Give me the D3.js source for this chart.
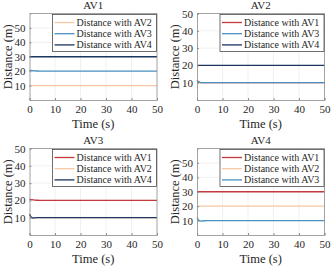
<!DOCTYPE html>
<html>
<head>
<meta charset="utf-8">
<script src="https://d3js.org/d3.v7.min.js"></script>
<style>
body { margin: 0; background: #fff; }
</style>
</head>
<body>
<script>
// time samples (s)
var time_s = [0, 0.5, 1, 1.5, 2, 3, 4, 6, 10, 20, 30, 40, 50]

// distances per ego vehicle (m)
var av1_to_av2 = [10, 10, 10, 10, 10, 10, 10, 10, 10, 10, 10, 10, 10]
var av1_to_av3 = [20.6, 20.5, 20.4, 20.3, 20.2, 20.1, 20, 20, 20, 20, 20, 20, 20]
var av1_to_av4 = [30, 30, 30, 30, 30, 30, 30, 30, 30, 30, 30, 30, 30]

var av2_to_av1 = [10.6, 10.4, 10.2, 10.1, 10, 10, 10, 10, 10, 10, 10, 10, 10]
var av2_to_av3 = [11.4, 10.8, 10.3, 10.1, 10, 10, 10, 10, 10, 10, 10, 10, 10]
var av2_to_av4 = [20, 20, 20, 20, 20, 20, 20, 20, 20, 20, 20, 20, 20]

var av3_to_av1 = [20.6, 20.5, 20.4, 20.3, 20.2, 20.1, 20, 20, 20, 20, 20, 20, 20]
var av3_to_av2 = [12, 10.6, 10, 9.9, 10, 10, 10, 10, 10, 10, 10, 10, 10]
var av3_to_av4 = [12, 10.6, 10, 9.8, 9.9, 10, 10, 10, 10, 10, 10, 10, 10]

var av4_to_av1 = [30, 30, 30, 30, 30, 30, 30, 30, 30, 30, 30, 30, 30]
var av4_to_av2 = [20, 20, 20, 20, 20, 20, 20, 20, 20, 20, 20, 20, 20]
var av4_to_av3 = [12, 10.5, 9.8, 9.6, 9.7, 9.9, 10, 10, 10, 10, 10, 10, 10]

var x_ticks = [0, 10, 20, 30, 40, 50]
var y_ticks = [10, 20, 30, 40, 50]
var colors = {'AV1': '#c4393b', 'AV2': '#f8c8a6', 'AV3': '#4a92c2', 'AV4': '#1d3660'}

var panels = [
    {title: 'AV1', ymax: 60, names: ['AV2', 'AV3', 'AV4'], series: [av1_to_av2, av1_to_av3, av1_to_av4]},
    {title: 'AV2', ymax: 50, names: ['AV1', 'AV3', 'AV4'], series: [av2_to_av1, av2_to_av3, av2_to_av4]},
    {title: 'AV3', ymax: 50, names: ['AV1', 'AV2', 'AV4'], series: [av3_to_av1, av3_to_av2, av3_to_av4]},
    {title: 'AV4', ymax: 60, names: ['AV1', 'AV2', 'AV3'], series: [av4_to_av1, av4_to_av2, av4_to_av3]}
]

var serif = "'Liberation Serif', 'Times New Roman', serif"

function plot_it() {
    var svg = d3.select('body').append('svg').attr('width', 332).attr('height', 268)
        .attr('font-family', serif)
    var plot_w = 127.5, plot_h = 86.5
    var origins = [[29.5, 13.5], [197, 13.5], [29.5, 148.5], [197, 148.5]]

    panels.forEach(function(panel, p) {
        var g = svg.append('g').attr('transform', 'translate(' + origins[p][0] + ',' + origins[p][1] + ')')
        var sx = d3.scaleLinear().domain([0, 50]).range([0, plot_w])
        var sy = d3.scaleLinear().domain([0, panel.ymax]).range([plot_h, 0])

        // grid
        g.append('g').selectAll('line').data(x_ticks.slice(1, -1)).enter().append('line')
            .attr('x1', d => sx(d)).attr('x2', d => sx(d)).attr('y1', 0).attr('y2', plot_h)
            .attr('stroke', '#e8e8e8').attr('stroke-width', 0.6)
        g.append('g').selectAll('line').data(y_ticks.filter(d => d < panel.ymax)).enter().append('line')
            .attr('y1', d => sy(d)).attr('y2', d => sy(d)).attr('x1', 0).attr('x2', plot_w)
            .attr('stroke', '#e8e8e8').attr('stroke-width', 0.6)

        // lines
        var line = d3.line().x((d, i) => sx(time_s[i])).y(d => sy(d))
        panel.series.forEach(function(vals, k) {
            g.append('path').attr('d', line(vals)).attr('fill', 'none')
                .attr('stroke', colors[panel.names[k]]).attr('stroke-width', 1.3)
        })

        // axes (ticks inside, matlab style)
        var xa = g.append('g').attr('transform', 'translate(0,' + plot_h + ')')
            .call(d3.axisBottom(sx).tickValues(x_ticks).tickSize(-2).tickPadding(5))
        var ya = g.append('g')
            .call(d3.axisLeft(sy).tickValues(y_ticks).tickSize(-2).tickPadding(4))
        ;[xa, ya].forEach(function(a) {
            a.attr('font-family', serif).attr('font-size', 11)
            a.select('.domain').attr('stroke', '#8c8c8c').attr('stroke-width', 0.8)
            a.selectAll('.tick line').attr('stroke', '#8c8c8c')
            a.selectAll('text').attr('fill', '#262626')
        })
        g.append('line').attr('x1', 0).attr('x2', plot_w).attr('y1', 0).attr('y2', 0)
            .attr('stroke', '#8c8c8c').attr('stroke-width', 0.8)
        g.append('line').attr('x1', plot_w).attr('x2', plot_w).attr('y1', 0).attr('y2', plot_h)
            .attr('stroke', '#8c8c8c').attr('stroke-width', 0.8)

        // labels
        g.append('text').attr('x', plot_w / 2).attr('y', -4.5).attr('text-anchor', 'middle')
            .attr('font-size', '11px').attr('fill', '#262626').text(panel.title)
        g.append('text').attr('x', plot_w / 2).attr('y', plot_h + 27.5).attr('text-anchor', 'middle')
            .attr('font-size', '12.5px').attr('fill', '#262626').text('Time (s)')
        g.append('text').attr('transform', 'translate(-18,' + (plot_h / 2) + ') rotate(-90)')
            .attr('text-anchor', 'middle').attr('font-size', '12.5px').attr('fill', '#262626').text('Distance (m)')

        // legend
        var lg = g.append('g').attr('transform', 'translate(23,1)')
        lg.append('rect').attr('width', 104).attr('height', 37).attr('fill', '#fff')
            .attr('stroke', '#333').attr('stroke-width', 0.7)
        panel.names.forEach(function(name, k) {
            var yy = 8 + k * 11.2
            lg.append('line').attr('x1', 2).attr('x2', 22).attr('y1', yy).attr('y2', yy)
                .attr('stroke', colors[name]).attr('stroke-width', 1.3)
            lg.append('text').attr('x', 24).attr('y', yy + 3.4).attr('font-size', '10px')
                .attr('fill', '#262626').text('Distance with ' + name)
        })
    })
}
plot_it()
</script>
</body>
</html>
